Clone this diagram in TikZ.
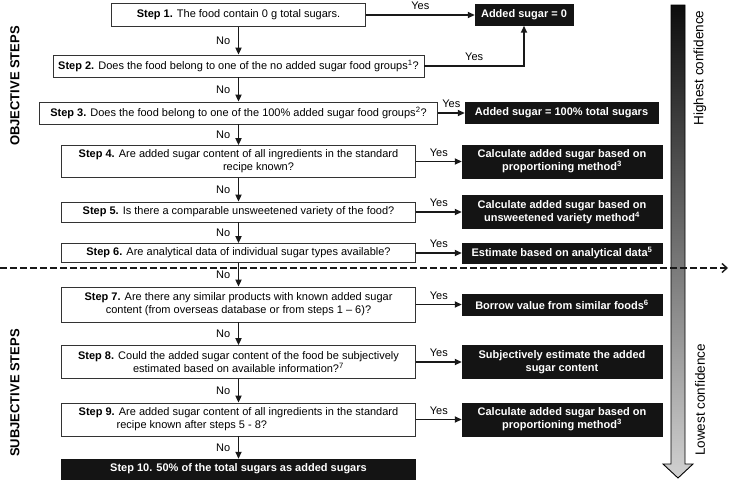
\documentclass[tikz,border=0pt]{standalone}
\usepackage{fontspec}
\setmainfont{Liberation Sans}
\usetikzlibrary{arrows.meta}

\begin{document}
\begin{tikzpicture}[x=1pt, y=-1pt, font=\fontsize{11}{13}\selectfont,
    stepbox/.style={draw=black!80, line width=0.8pt, align=center, inner sep=1pt, minimum width=354pt, minimum height=#1},
    resbox/.style={fill=black!92, draw=black!92, text=white, font=\fontsize{11}{13}\selectfont\bfseries, align=center, inner sep=1pt, minimum width=200pt, minimum height=#1},
    flow/.style={-{Triangle[length=7pt, width=6pt]}, line width=1.8pt, black!90},
    sidelabel/.style={rotate=90, font=\fontsize{13}{15}\selectfont\bfseries}]
  \useasboundingbox (0,0) rectangle (729,480);

  % steps
  \node[stepbox=23pt, minimum width=254pt] (s1) at (238.5,15) {\textbf{Step 1.} The food contain 0 g total sugars.};
  \node[stepbox=22pt, minimum width=371pt] (s2) at (238.5,66) {\textbf{Step 2.} Does the food belong to one of the no added sugar food groups\textsuperscript{1}?};
  \node[stepbox=22pt, minimum width=398pt] (s3) at (238.5,113) {\textbf{Step 3.} Does the food belong to one of the 100\% added sugar food groups\textsuperscript{2}?};
  \node[stepbox=32pt] (s4) at (238.5,161.5) {\textbf{Step 4.} Are added sugar content of all ingredients in the standard\\\hspace*{40pt}recipe known?};
  \node[stepbox=20pt] (s5) at (238.5,212) {\textbf{Step 5.} Is there a comparable unsweetened variety of the food?};
  \node[stepbox=19pt] (s6) at (238.5,253) {\textbf{Step 6.} Are analytical data of individual sugar types available?};
  \node[stepbox=35pt] (s7) at (238.5,304.5) {\textbf{Step 7.} Are there any similar products with known added sugar\\content (from overseas database or from steps 1 -- 6)?};
  \node[stepbox=33pt] (s8) at (238.5,362) {\textbf{Step 8.} Could the added sugar content of the food be subjectively\\estimated based on available information?\textsuperscript{7}};
  \node[stepbox=33pt, align=left] (s9) at (238.5,419.5) {\textbf{Step 9.} Are added sugar content of all ingredients in the standard\\\hspace*{38pt}recipe known after steps 5 - 8?};
  \node[resbox=20pt, minimum width=354pt] (s10) at (238.5,469) {Step 10. 50\% of the total sugars as added sugars};

  % results
  \node[resbox=21pt, minimum width=98pt] (r1) at (524,15) {Added sugar = 0};
  \node[resbox=21pt, minimum width=193pt] (r3) at (561.5,113) {Added sugar = 100\% total sugars};
  \node[resbox=33pt] (r4) at (562,161.5) {Calculate added sugar based on\\proportioning method\textsuperscript{3}};
  \node[resbox=33pt] (r5) at (562,212) {Calculate added sugar based on\\unsweetened variety method\textsuperscript{4}};
  \node[resbox=20pt] (r6) at (562,253) {Estimate based on analytical data\textsuperscript{5}};
  \node[resbox=21pt] (r7) at (562,304.5) {Borrow value from similar foods\textsuperscript{6}};
  \node[resbox=33pt] (r8) at (562,362) {Subjectively estimate the added\\sugar content};
  \node[resbox=33pt] (r9) at (562,419.5) {Calculate added sugar based on\\proportioning method\textsuperscript{3}};

  % confidence bar
  \shadedraw[top color=black!95, bottom color=black!18, draw=black, line width=0.9pt]
    (671,5) -- (685,5) -- (685,464) -- (693,464) -- (678,478) -- (663,464) -- (671,464) -- cycle;
  \node[rotate=90, font=\fontsize{13.5}{15}\selectfont] (hi) at (700,68) {Highest confidence};
  \node[rotate=90, font=\fontsize{13.5}{15}\selectfont] (lo) at (700,400) {Lowest confidence};

  % objective / subjective divide
  \coordinate (dl) at (0,268);
  \coordinate (dr) at (728,268);
  \draw[dashed, dash pattern=on 7pt off 3pt, line width=1.4pt, black!90, -{Straight Barb[length=5pt, width=9pt]}] (dl) -- (dr);
  \node[sidelabel] (obj) at (15,86) {OBJECTIVE STEPS};
  \node[sidelabel] (subj) at (15,393) {SUBJECTIVE STEPS};

  % no
  \path[flow] (s1) edge node[left=4pt, black] {No} (s2);
  \path[flow] (s2) edge node[left=4pt, black] {No} (s3);
  \path[flow] (s3) edge node[left=4pt, black] {No} (s4);
  \path[flow] (s4) edge node[left=4pt, black] {No} (s5);
  \path[flow] (s5) edge node[left=4pt, black] {No} (s6);
  \path[flow] (s6) edge node[left=4pt, black] {No} (s7);
  \path[flow] (s7) edge node[left=4pt, black] {No} (s8);
  \path[flow] (s8) edge node[left=4pt, black] {No} (s9);
  \path[flow] (s9) edge node[left=4pt, black] {No} (s10);

  % yes
  \path[flow] (s1) edge node[above=1pt, black] {Yes} (r1);
  \draw[flow] (s2) -| node[above=1pt, pos=0.25, black] {Yes} (r1);
  \path[flow] (s3) edge node[above=1pt, black] {Yes} (r3);
  \path[flow] (s4) edge node[above=1pt, black] {Yes} (r4);
  \path[flow] (s5) edge node[above=1pt, black] {Yes} (r5);
  \path[flow] (s6) edge node[above=1pt, black] {Yes} (r6);
  \path[flow] (s7) edge node[above=1pt, black] {Yes} (r7);
  \path[flow] (s8) edge node[above=1pt, black] {Yes} (r8);
  \path[flow] (s9) edge node[above=1pt, black] {Yes} (r9);
\end{tikzpicture}
\end{document}
